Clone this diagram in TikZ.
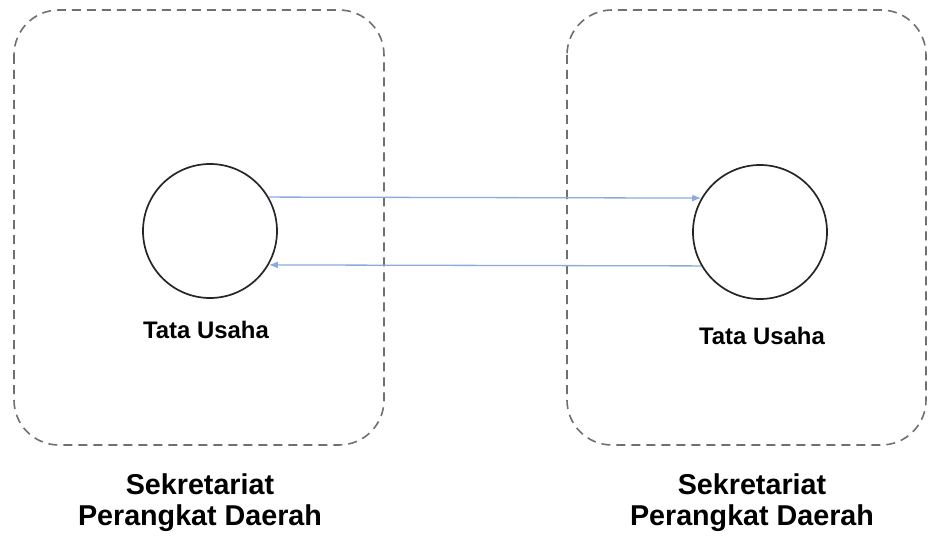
\documentclass[tikz,border=0pt]{standalone}
\usepackage{fontspec}
\usetikzlibrary{arrows.meta}
\setmainfont{Liberation Sans}
\definecolor{garisbiru}{HTML}{8CAADC}
\definecolor{abu}{HTML}{707070}
\tikzset{
  kotak/.style={draw=abu,line width=1.6bp,dash pattern=on 9bp off 6bp,rounded corners=45bp},
  proses/.style={circle,draw=black!85,line width=1.7bp,minimum size=134bp,inner sep=0pt},
  alur/.style={->,draw=garisbiru,line width=1.3bp},
  teks/.style={font=\bfseries\fontsize{24}{28}\selectfont},
  judul/.style={align=center,font=\bfseries\fontsize{28.8}{31}\selectfont}
}
\begin{document}
\begin{tikzpicture}[>={Latex[length=9bp,width=7bp]},x=1bp,y=-1bp]
  \useasboundingbox (0,0) rectangle (928,542);
  % Kotak bagian
  \draw[kotak] (14,10) rectangle (384,445);
  \draw[kotak] (567,10) rectangle (926,445);
  % Lingkaran proses
  \node[proses] (tuKiri) at (210,231) {};
  \node[proses] (tuKanan) at (760,232) {};
  \node[teks] (lblKiri) at (206,330) {Tata Usaha};
  \node[teks] (lblKanan) at (762,336) {Tata Usaha};
  % Alur antar proses
  \draw[alur] (tuKiri.30) -- (tuKanan.150);
  \draw[alur] (tuKanan.-150) -- (tuKiri.-30);
  % Nama bagian
  \node[judul] (setKiri) at (200,503) {Sekretariat\\Perangkat Daerah};
  \node[judul] (setKanan) at (752,503) {Sekretariat\\Perangkat Daerah};
\end{tikzpicture}
\end{document}
